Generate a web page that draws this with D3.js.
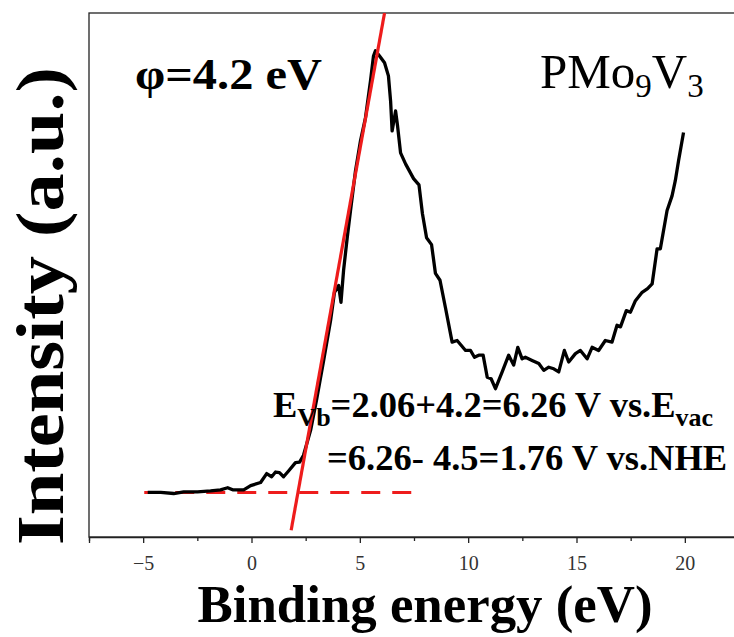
<!DOCTYPE html>
<html>
<head>
<meta charset="utf-8">
<script src="https://cdn.jsdelivr.net/npm/d3@7"></script>
<style>
  html, body { margin: 0; padding: 0; background: #fff; }
  svg { display: block; }
</style>
</head>
<body>
<div id="chart"></div>
<script>
// Binding energy (eV) of the UPS spectrum
const energy = [-4.79,-4.19,-3.59,-3.13,-2.49,-1.89,-1.43,-1.10,-0.87,-0.36,-0.04,0.42,0.70,0.93,1.11,1.29,1.48,1.71,2.03,2.22,2.40,2.73,3.00,3.33,3.65,3.83,4.02,4.13,4.25,4.42,4.57,4.80,5.03,5.26,5.49,5.63,5.72,5.91,6.14,6.32,6.42,6.49,6.65,6.74,6.88,7.11,7.48,7.73,7.89,8.08,8.31,8.49,8.70,8.95,9.26,9.49,9.88,10.11,10.29,10.49,10.69,10.88,11.06,11.26,11.57,11.87,12.10,12.29,12.49,12.64,12.95,13.26,13.49,13.72,13.95,14.18,14.44,14.64,14.95,15.18,15.49,15.72,16.02,16.33,16.64,16.87,17.03,17.30,17.49,17.72,18.03,18.28,18.49,18.72,18.87,19.18,19.41,19.56,19.71,19.94];
// Intensity (a.u.)
const intensity = [8.5,8.5,8.3,8.6,8.6,8.8,9.0,9.4,9.0,9.0,9.8,10.4,12.1,11.5,12.4,12.3,11.5,12.6,14.2,14.3,15.6,20.4,26.1,33.7,41.3,46.7,48.0,44.8,50.9,57.2,62.3,69.9,75.6,80.0,87.0,91.8,92.8,91.8,90.5,88.0,83.2,77.5,81.3,78.5,73.3,71.2,68.4,67.2,61.7,57.1,55.8,50.3,49.0,43.8,37.2,37.5,35.6,35.6,34.3,34.7,34.7,30.5,30.2,28.3,31.5,34.7,32.8,36.2,34.0,34.3,33.7,33.1,31.8,32.4,32.1,31.5,35.6,33.4,35.0,35.6,34.0,36.2,35.6,37.5,37.2,40.4,40.1,43.2,42.9,45.1,46.7,47.4,48.3,55.0,55.0,62.3,65.1,68.0,71.8,77.2];
// Linear fit of the leading edge (energy, intensity)
const fitX = [1.83, 6.14];
const fitY = [1.3, 100.0];
// Baseline (background level)
const baseX = [-4.95, 7.5];
const baseY = [8.5, 8.5];
const xTicks = [-5, 0, 5, 10, 15, 20];
const xMinorTicks = [-7.5, -2.5, 2.5, 7.5, 12.5, 17.5, 22.5];
const xDomain = [-7.5, 22.5];
const yDomain = [0, 100];

const W = 734, H = 637;
const m = { left: 89, top: 13, right: -5, bottom: 100 };
const pw = W - m.left - m.right, ph = H - m.top - m.bottom;
const SERIF = "'Liberation Serif', 'Times New Roman', Times, serif";

const svg = d3.select("#chart").append("svg").attr("width", W).attr("height", H)
  .attr("font-family", SERIF);
const x = d3.scaleLinear().domain(xDomain).range([m.left, m.left + pw]);
const y = d3.scaleLinear().domain(yDomain).range([m.top + ph, m.top]);

svg.append("defs").append("clipPath").attr("id", "clip")
  .append("rect").attr("x", m.left).attr("y", m.top).attr("width", pw).attr("height", ph);

// frame
svg.append("rect").attr("x", m.left).attr("y", m.top).attr("width", pw).attr("height", ph)
  .attr("fill", "none").attr("stroke", "#222").attr("stroke-width", 1.3);

// x axis
const xAxis = svg.append("g").attr("transform", `translate(0,${m.top + ph})`)
  .call(d3.axisBottom(x).tickValues(xTicks).tickFormat(d3.format("")).tickSize(6).tickPadding(13));
xAxis.attr("font-family", SERIF);
xAxis.select(".domain").attr("stroke", "#222").attr("stroke-width", 1.3);
xAxis.selectAll(".tick line").attr("stroke", "#222").attr("stroke-width", 1.3);
xAxis.selectAll("text").attr("font-family", SERIF).attr("font-size", 20).attr("fill", "#333");
const xMinor = svg.append("g").attr("transform", `translate(0,${m.top + ph})`)
  .call(d3.axisBottom(x).tickValues(xMinorTicks).tickFormat("").tickSize(4));
xMinor.select(".domain").remove();
xMinor.selectAll(".tick line").attr("stroke", "#222").attr("stroke-width", 1.3);

// titles
svg.append("text").attr("x", 425).attr("y", 622).attr("text-anchor", "middle")
  .attr("font-family", SERIF).attr("font-weight", "bold").attr("font-size", 53)
  .attr("textLength", 455).attr("lengthAdjust", "spacingAndGlyphs").text("Binding energy (eV)");
svg.append("text").attr("transform", `translate(63,${306}) rotate(-90)`)
  .attr("text-anchor", "middle").attr("font-family", SERIF).attr("font-weight", "bold").attr("font-size", 68)
  .attr("textLength", 478).attr("lengthAdjust", "spacingAndGlyphs").text("Intensity (a.u.)");

const plot = svg.append("g").attr("clip-path", "url(#clip)");

// baseline dashed
plot.append("path").datum(baseX.map((d, i) => [d, baseY[i]]))
  .attr("d", d3.line().x(d => x(d[0])).y(d => y(d[1])))
  .attr("stroke", "#ee1c1c").attr("stroke-width", 3).attr("fill", "none").attr("stroke-dasharray", "19,12");

// spectrum
plot.append("path").datum(energy.map((d, i) => [d, intensity[i]]))
  .attr("d", d3.line().x(d => x(d[0])).y(d => y(d[1])))
  .attr("stroke", "#000").attr("stroke-width", 3.3).attr("fill", "none").attr("stroke-linejoin", "round");

// fit line
plot.append("path").datum(fitX.map((d, i) => [d, fitY[i]]))
  .attr("d", d3.line().x(d => x(d[0])).y(d => y(d[1])))
  .attr("stroke", "#ee1c1c").attr("stroke-width", 3.2).attr("fill", "none");

// annotations
svg.append("text").attr("x", 135).attr("y", 89).attr("font-family", SERIF).attr("font-weight", "bold")
  .attr("font-size", 45).attr("textLength", 187).attr("lengthAdjust", "spacingAndGlyphs").text("φ=4.2 eV");
const pm = svg.append("text").attr("x", 540).attr("y", 88).attr("font-family", SERIF).attr("font-size", 49);
pm.append("tspan").text("PMo");
pm.append("tspan").attr("font-size", 33).attr("dy", 9).text("9");
pm.append("tspan").attr("dy", -9).text("V");
pm.append("tspan").attr("font-size", 33).attr("dy", 9).text("3");

const e1 = svg.append("text").attr("x", 273).attr("y", 417).attr("font-family", SERIF).attr("font-weight", "bold").attr("font-size", 36.5);
e1.append("tspan").text("E");
e1.append("tspan").attr("font-size", 26).attr("dy", 9).text("Vb");
e1.append("tspan").attr("dy", -9).text("=2.06+4.2=6.26 V vs.E");
e1.append("tspan").attr("font-size", 26).attr("dy", 9).text("vac");

svg.append("text").attr("x", 327).attr("y", 470).attr("font-family", SERIF).attr("font-weight", "bold").attr("font-size", 36.5)
  .text("=6.26- 4.5=1.76 V vs.NHE");
</script>
</body>
</html>
